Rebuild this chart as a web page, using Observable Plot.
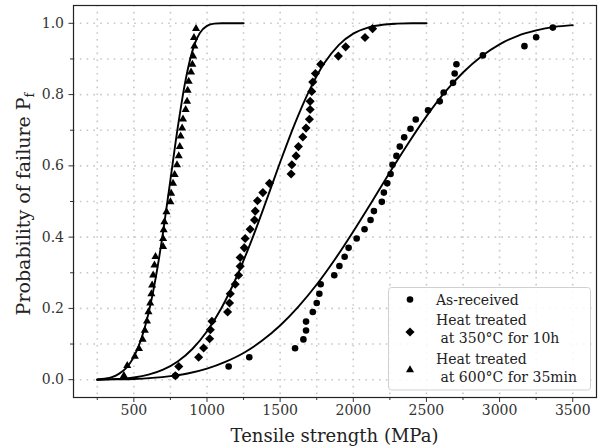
<!DOCTYPE html>
<html><head><meta charset="utf-8">
<script src="https://cdn.jsdelivr.net/npm/d3@7"></script>
<script src="https://cdn.jsdelivr.net/npm/@observablehq/plot@0.6"></script>
<style>
body{margin:0;background:#fff;}
#chart{width:603px;height:448px;}
</style></head><body><div id="chart"></div>
<script>
// ---- data ----
const seriesNames = ["As-received", "Heat treated\n at 350°C for 10h", "Heat treated\n at 600°C for 35min"];

// As-received (circles)
const recX = [784,1148,1289,1602,1659,1677,1677,1723,1750,1768,1777,1870,1905,1941,1968,2023,2077,2118,2141,2195,2209,2232,2255,2268,2295,2318,2348,2391,2427,2511,2591,2618,2682,2693,2705,2886,3170,3250,3364];
const recP = [0.011,0.037,0.063,0.088,0.113,0.138,0.163,0.190,0.215,0.241,0.268,0.293,0.319,0.345,0.370,0.396,0.422,0.448,0.473,0.499,0.525,0.551,0.577,0.603,0.628,0.654,0.680,0.704,0.730,0.756,0.781,0.806,0.833,0.859,0.885,0.910,0.936,0.961,0.988];

// Heat treated 350°C 10h (diamonds)
const diaX = [784,807,943,977,1018,1023,1034,1141,1154,1159,1193,1216,1227,1227,1255,1261,1295,1325,1330,1345,1382,1427,1575,1580,1609,1625,1655,1677,1700,1705,1705,1716,1723,1741,1777,1898,1948,2080,2132];
const diaP = [0.011,0.037,0.063,0.089,0.115,0.140,0.164,0.190,0.215,0.241,0.268,0.293,0.318,0.343,0.370,0.396,0.422,0.448,0.473,0.502,0.525,0.551,0.577,0.603,0.628,0.654,0.681,0.706,0.731,0.758,0.781,0.809,0.835,0.859,0.885,0.908,0.934,0.960,0.985];

// Heat treated 600°C 35min (triangles)
const triX = [432,455,507,535,560,575,590,600,612,620,625,632,641,648,700,700,704,709,723,750,755,768,779,795,807,814,820,830,836,854,864,868,875,891,900,905,914,911,925];
const triP = [0.011,0.039,0.065,0.087,0.113,0.138,0.164,0.190,0.215,0.241,0.265,0.293,0.321,0.345,0.373,0.396,0.420,0.443,0.471,0.499,0.523,0.551,0.575,0.603,0.628,0.654,0.683,0.706,0.731,0.758,0.781,0.812,0.837,0.863,0.885,0.908,0.936,0.960,0.985];

// fitted curves
const recCurveX = [250,375,500,625,750,875,1000,1125,1250,1375,1500,1625,1750,1875,2000,2125,2250,2375,2500,2625,2750,2875,3000,3125,3250,3375,3500];
const recCurveP = [0.000,0.001,0.002,0.005,0.010,0.018,0.031,0.050,0.075,0.109,0.152,0.205,0.267,0.338,0.416,0.498,0.582,0.663,0.739,0.806,0.862,0.907,0.941,0.965,0.980,0.990,0.995];
const diaCurveX = [250,300,400,500,600,700,800,900,1000,1100,1200,1300,1400,1500,1600,1700,1800,1900,2000,2100,2200,2300,2400,2500];
const diaCurveP = [0.000,0.001,0.002,0.006,0.014,0.028,0.051,0.086,0.136,0.202,0.286,0.386,0.496,0.610,0.718,0.812,0.887,0.939,0.971,0.988,0.996,0.999,1.000,1.000];
const triCurveX = [250,300,350,400,450,500,550,600,650,700,750,800,850,900,950,1000,1050,1100,1150,1200,1250];
const triCurveP = [0.001,0.003,0.007,0.017,0.034,0.064,0.113,0.186,0.287,0.415,0.561,0.707,0.833,0.922,0.972,0.993,0.999,1.000,1.000,1.000,1.000];

// ticks / grid
const xMajor = [500,1000,1500,2000,2500,3000,3500];
const xMinor = [250,750,1250,1750,2250,2750,3250];
const yMajor = [0,0.2,0.4,0.6,0.8,1.0];
const yMinor = [0.1,0.3,0.5,0.7,0.9];
const xGrid = [250,500,750,1000,1250,1500,1750,2000,2250,2500,2750,3000,3250,3500];
const yGrid = [0,0.1,0.2,0.3,0.4,0.5,0.6,0.7,0.8,0.9,1.0];

const xLabel = "Tensile strength (MPa)";
const yLabel = "Probability of failure P";
const yLabelSub = "f";

// ---- build tables ----
const zipT = (xs, ys) => xs.map((x, i) => ({x, p: ys[i]}));
const rec = zipT(recX, recP), dia = zipT(diaX, diaP), tri = zipT(triX, triP);
const recC = zipT(recCurveX, recCurveP), diaC = zipT(diaCurveX, diaCurveP), triC = zipT(triCurveX, triCurveP);

const FONT = "DejaVu Serif";
const gridStyle = {stroke:"#c8c8c8", strokeOpacity:1, strokeWidth:1.6, strokeDasharray:"1.6,5.2"};
const lineStyle = {x:"x", y:"p", stroke:"#000", strokeWidth:1.9, curve:"monotone-x"};

const chart = Plot.plot({
  width: 603, height: 448,
  marginLeft: 73, marginRight: 7, marginTop: 5, marginBottom: 51,
  style: {fontFamily: FONT, fontSize: "14px", color: "#333", background: "#fff"},
  x: {domain: [87.5, 3662.5]},
  y: {domain: [-0.05, 1.05]},
  marks: [
    Plot.gridX(xGrid, gridStyle),
    Plot.gridY(yGrid, gridStyle),
    Plot.line(recC, lineStyle),
    Plot.line(diaC, lineStyle),
    Plot.line(triC, lineStyle),
    Plot.dot(rec, {x:"x", y:"p", symbol:"circle", fill:"#000", stroke:"none", r:3.3}),
    Plot.dot(dia, {x:"x", y:"p", symbol:"diamond2", fill:"#000", stroke:"none", r:4.1}),
    Plot.dot(tri, {x:"x", y:"p", symbol:"triangle", fill:"#000", stroke:"none", r:3}),
    Plot.axisX(xMajor, {tickSize:5, tickPadding:3, tickFormat: d => String(d), label:null, stroke:"#333", fontSize:14}),
    Plot.axisX(xMinor, {tickSize:3, tickFormat: () => "", label:null, stroke:"#333"}),
    Plot.axisY(yMajor, {tickSize:4.5, tickPadding:5, tickFormat: d => d.toFixed(1), label:null, stroke:"#333", fontSize:14}),
    Plot.axisY(yMinor, {tickSize:3, tickFormat: () => "", label:null, stroke:"#333"}),
    Plot.frame({stroke:"#222", strokeWidth:1.2})
  ]
});

document.getElementById("chart").appendChild(chart);

// ---- axis titles and legend ----
const svg = d3.select(chart);
svg.append("text")
  .attr("x", 334.5).attr("y", 442)
  .attr("text-anchor", "middle")
  .attr("font-family", FONT).attr("font-size", 18).attr("fill", "#222")
  .text(xLabel);

const yl = svg.append("text")
  .attr("transform", "translate(30,204) rotate(-90)")
  .attr("text-anchor", "middle")
  .attr("font-family", FONT).attr("font-size", 19).attr("fill", "#222");
yl.append("tspan").text(yLabel);
yl.append("tspan").attr("font-size", 13).attr("dy", 4).text(yLabelSub);

const lg = svg.append("g").attr("font-family", FONT).attr("font-size", 14).attr("fill", "#222").attr("text-anchor", "start");
lg.append("rect").attr("x", 388.5).attr("y", 287.5).attr("width", 202).attr("height", 102.5)
  .attr("rx", 3).attr("fill", "#fff").attr("fill-opacity", 0.85).attr("stroke", "#d0d0d0").attr("stroke-width", 1);

const legendItems = [
  {sym: d3.symbolCircle, r: 3.3, cy: 299.5, lines: seriesNames[0].split("\n"), ty: 304.5},
  {sym: d3.symbolDiamond2, r: 4.1, cy: 332, lines: seriesNames[1].split("\n"), ty: 325},
  {sym: d3.symbolTriangle, r: 3, cy: 370, lines: seriesNames[2].split("\n"), ty: 364}
];
for (const it of legendItems) {
  lg.append("path")
    .attr("d", d3.symbol(it.sym, Math.PI * it.r * it.r)())
    .attr("transform", `translate(410,${it.cy})`)
    .attr("fill", "#000");
  it.lines.forEach((ln, i) => {
    lg.append("text").attr("x", 436).attr("y", it.ty + i * 18.3)
      .attr("text-anchor", "start")
      .style("white-space", "pre")
      .text(ln);
  });
}
</script>
</body></html>
